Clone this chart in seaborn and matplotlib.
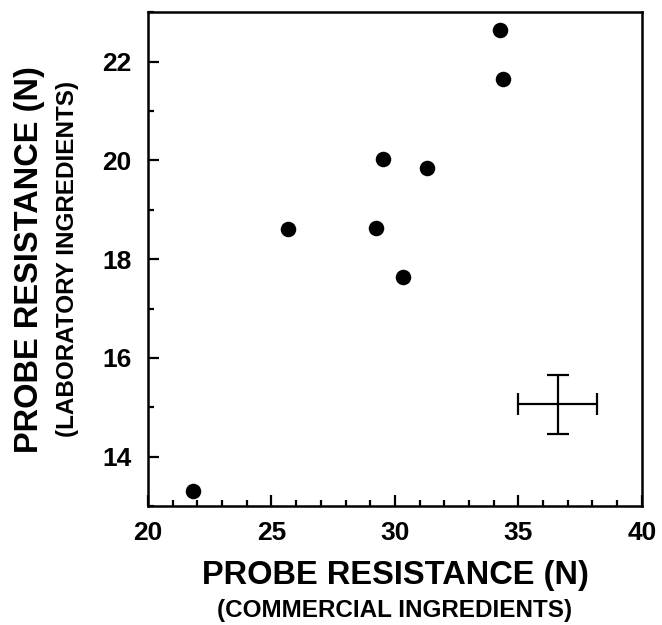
import pandas as pd
import seaborn as sns
import matplotlib.pyplot as plt
from matplotlib.ticker import MultipleLocator

# probe resistance, commercial vs laboratory ingredients
commercial = [21.83, 25.65, 29.23, 29.50, 30.32, 31.29, 34.24, 34.39]
laboratory = [13.30, 18.62, 18.63, 20.03, 17.63, 19.85, 22.64, 21.64]

# typical error shown as a cross
err_x, err_y = 36.6, 15.06
err_dx, err_dy = 1.6, 0.6

df = pd.DataFrame({"commercial": commercial, "laboratory": laboratory})

sns.set_style("ticks")
plt.rcParams['font.family'] = ['Liberation Sans', 'DejaVu Sans']
plt.rcParams['font.weight'] = 'bold'
plt.rcParams['text.color'] = 'black'
plt.rcParams['axes.labelcolor'] = 'black'
plt.rcParams['xtick.color'] = 'black'
plt.rcParams['ytick.color'] = 'black'

fig = plt.figure(figsize=(6.62, 6.25), dpi=100)
ax = fig.add_axes([0.2236, 0.1904, 0.746, 0.790])

sns.scatterplot(data=df, x="commercial", y="laboratory", ax=ax,
                color="black", s=125, edgecolor="black", linewidth=0)

ax.errorbar(err_x, err_y, xerr=err_dx, yerr=err_dy, fmt="none",
            ecolor="black", elinewidth=1.6, capsize=8, capthick=1.6)

ax.set_xlim(20, 40)
ax.set_ylim(13, 23)
ax.xaxis.set_major_locator(MultipleLocator(5))
ax.xaxis.set_minor_locator(MultipleLocator(1))
ax.yaxis.set_major_locator(MultipleLocator(2))
ax.yaxis.set_minor_locator(MultipleLocator(1))

for s in ax.spines.values():
    s.set_linewidth(1.8)
    s.set_color("black")

ax.tick_params(which="major", direction="in", length=8, width=1.6)
ax.tick_params(which="minor", direction="in", length=4, width=1.6)
ax.tick_params(axis="x", which="both", pad=11)
ax.tick_params(axis="y", which="both", pad=12)
for lab in ax.get_xticklabels() + ax.get_yticklabels():
    lab.set_fontweight("bold")
    lab.set_fontsize(19)

ax.set_xlabel("")
ax.set_ylabel("")

ax.text(0.5, -0.14, "PROBE RESISTANCE (N)", transform=ax.transAxes,
        ha="center", va="center", fontsize=23.5, fontweight="bold")
ax.text(0.5, -0.212, "(COMMERCIAL INGREDIENTS)", transform=ax.transAxes,
        ha="center", va="center", fontsize=17.5, fontweight="bold")
ax.text(-0.239, 0.5, "PROBE RESISTANCE (N)", transform=ax.transAxes,
        ha="center", va="center", rotation=90, fontsize=23.5, fontweight="bold")
ax.text(-0.164, 0.5, "(LABORATORY INGREDIENTS)", transform=ax.transAxes,
        ha="center", va="center", rotation=90, fontsize=17.5, fontweight="bold")

plt.savefig("out.png", dpi=100)
